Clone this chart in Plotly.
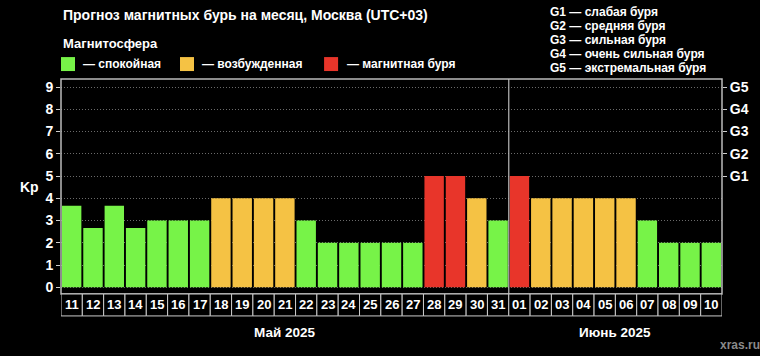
import plotly.graph_objects as go

days = ["11","12","13","14","15","16","17","18","19","20","21","22","23","24","25","26","27",
        "28","29","30","31","01","02","03","04","05","06","07","08","09","10"]
kp = [3.67,2.67,3.67,2.67,3,3,3,4,4,4,4,3,2,2,2,2,2,5,5,4,3,5,4,4,4,4,4,3,2,2,2]
months = ["Май 2025", "Июнь 2025"]
month_counts = [21, 10]
g_levels = [5, 6, 7, 8, 9]
g_labels = ["G1", "G2", "G3", "G4", "G5"]
g_legend = ["G1 — слабая буря", "G2 — средняя буря", "G3 — сильная буря",
            "G4 — очень сильная буря", "G5 — экстремальная буря"]
legend_items = ["— спокойная", "— возбужденная", "— магнитная буря"]

GREEN, ORANGE, RED = "#77f348", "#f5c244", "#e8352a"
colors = [RED if v >= 5 else (ORANGE if v >= 4 else GREEN) for v in kp]

FONT = "Liberation Sans, Arial, sans-serif"
NARROW = "Liberation Sans Narrow, Liberation Sans, Arial, sans-serif"

idx = list(range(len(days)))
fig = go.Figure()
fig.add_trace(go.Bar(x=idx, y=kp, marker=dict(color=colors, line=dict(width=0)),
                     customdata=days, hovertemplate="%{customdata}: %{y}<extra></extra>",
                     showlegend=False))
# invisible trace for right axis
fig.add_trace(go.Scatter(x=[0], y=[0], yaxis="y2", mode="markers",
                         marker=dict(opacity=0), showlegend=False, hoverinfo="skip"))

n = len(days)
fig.update_layout(
    width=760, height=356,
    margin=dict(l=61, r=38, t=79, b=62),
    paper_bgcolor="black", plot_bgcolor="black",
    bargap=0.09,
    font=dict(family=FONT, color="white"),
    xaxis=dict(range=[-0.5, n - 0.5], showticklabels=False,
               showgrid=False, zeroline=False, showline=False, ticks=""),
    yaxis=dict(range=[-0.3, 9.36], tickvals=list(range(10)), showgrid=True,
               gridcolor="#6a6a6a", griddash="1px,2px", gridwidth=1, zeroline=False,
               ticks="outside", ticklen=4, tickcolor="#cccccc",
               tickfont=dict(size=14, family=FONT, color="white", weight="bold"),
               showline=False),
    yaxis2=dict(range=[-0.3, 9.36], overlaying="y", side="right", tickvals=g_levels,
                ticktext=g_labels, showgrid=False, zeroline=False,
                ticks="outside", ticklen=4, tickcolor="#cccccc",
                tickfont=dict(size=14, family=FONT, color="white", weight="bold"),
                showline=False),
)

shapes = []
annotations = []
# frame
shapes.append(dict(type="rect", xref="paper", yref="paper", x0=0, x1=1, y0=0, y1=1,
                   line=dict(color="#bbbbbb", width=1.5), layer="above"))
# month separator
boundary = month_counts[0] - 0.5
shapes.append(dict(type="line", xref="x", yref="paper", x0=boundary, x1=boundary, y0=0, y1=1,
                   line=dict(color="#bbbbbb", width=1.2)))
# day label boxes
for i, d in enumerate(days):
    shapes.append(dict(type="rect", xref="x", yref="paper", x0=i - 0.5, x1=i + 0.5,
                       y0=-0.102, y1=0, line=dict(color="#cccccc", width=1), fillcolor="black"))
    annotations.append(dict(x=i, xref="x", y=-0.051, yref="paper", text=d, showarrow=False,
                            font=dict(size=13, family=NARROW, color="white", weight="bold"),
                            xanchor="center", yanchor="middle"))
# month labels
start = 0
for m, c in zip(months, month_counts):
    center = start + (c - 1) / 2
    annotations.append(dict(x=center, xref="x", y=-0.177, yref="paper", text=m, showarrow=False,
                            font=dict(size=13.5, family=FONT, color="white", weight="bold"),
                            xanchor="center", yanchor="middle"))
    start += c

# title & legends
annotations.append(dict(x=0, xref="paper", y=1.298, yref="paper",
                        text="Прогноз магнитных бурь на месяц, Москва (UTC+03)", showarrow=False,
                        font=dict(size=14, color="white", weight="bold"),
                        xanchor="left", yanchor="middle"))
annotations.append(dict(x=0, xref="paper", y=1.167, yref="paper", text="Магнитосфера",
                        showarrow=False, font=dict(size=13, color="white", weight="bold"),
                        xanchor="left", yanchor="middle"))
sq_x = [0.0, 0.180, 0.398]
for (x0, col, txt) in zip(sq_x, [GREEN, ORANGE, RED], legend_items):
    shapes.append(dict(type="rect", xref="paper", yref="paper", x0=x0, x1=x0 + 0.0212,
                       y0=1.037, y1=1.102, fillcolor=col, line=dict(width=0)))
    annotations.append(dict(x=x0 + 0.031, xref="paper", y=1.070, yref="paper", text=txt,
                            showarrow=False, font=dict(size=12, color="white", weight="bold"),
                            xanchor="left", yanchor="middle"))
for k, txt in enumerate(g_legend):
    annotations.append(dict(x=0.7368, xref="paper", y=1.312 - k * 0.0652, yref="paper",
                            text=txt, showarrow=False,
                            font=dict(size=12, color="white", weight="bold"),
                            xanchor="left", yanchor="middle"))
annotations.append(dict(x=-0.047, xref="paper", y=0.498, yref="paper", text="Kp",
                        showarrow=False, font=dict(size=14, color="white", weight="bold"),
                        xanchor="center", yanchor="middle"))
annotations.append(dict(x=1.027, xref="paper", y=-0.237, yref="paper", text="xras.ru",
                        showarrow=False, font=dict(size=12, family=NARROW, color="#8a8a8a",
                                                   weight="bold"),
                        xanchor="center", yanchor="middle"))

fig.update_layout(shapes=shapes, annotations=annotations)
fig.write_html("out.html", config={"displayModeBar": False},
               post_script="document.body.style.margin='0';document.body.style.background='black';")
